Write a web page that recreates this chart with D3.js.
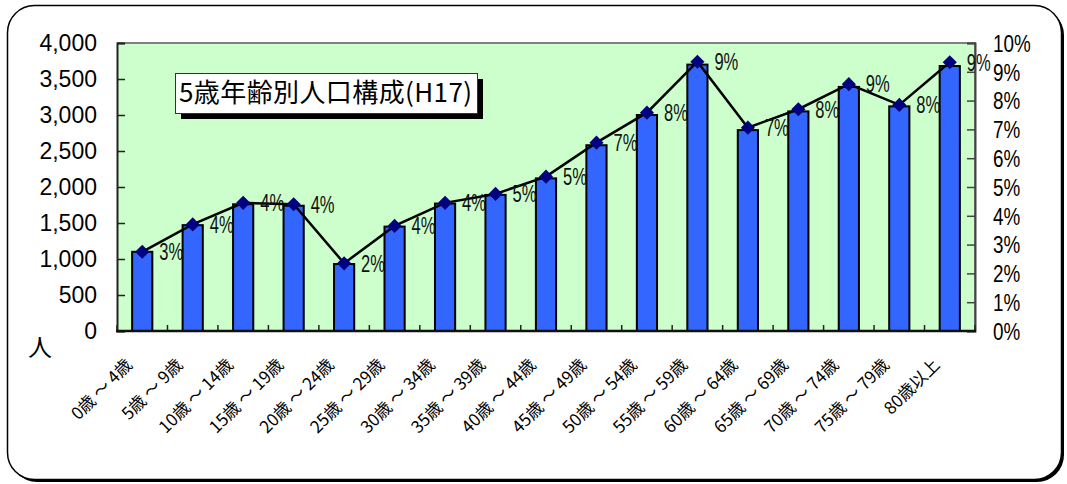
<!DOCTYPE html>
<html>
<head>
<meta charset="utf-8">
<script src="https://cdn.jsdelivr.net/npm/d3@7"></script>
<style>
  body { margin: 0; background: #fff; }
  text { font-family: "Liberation Sans", Arial, sans-serif; }
  .cjk { font-family: "Noto Sans CJK JP", "Noto Sans", sans-serif; }
</style>
</head>
<body>
<div id="container"></div>
<script>
const categories = ["0歳～4歳", "5歳～9歳", "10歳～14歳", "15歳～19歳", "20歳～24歳", "25歳～29歳",
    "30歳～34歳", "35歳～39歳", "40歳～44歳", "45歳～49歳", "50歳～54歳", "55歳～59歳",
    "60歳～64歳", "65歳～69歳", "70歳～74歳", "75歳～79歳", "80歳以上"];
const population = [1100, 1470, 1760, 1740, 930, 1450, 1770, 1890, 2120, 2580, 3000, 3700, 2790, 3050, 3390, 3120, 3680];
const share = [2.75, 3.70, 4.45, 4.40, 2.35, 3.65, 4.45, 4.76, 5.36, 6.54, 7.58, 9.35, 7.06, 7.70, 8.57, 7.85, 9.33];
const popTicks = [0, 500, 1000, 1500, 2000, 2500, 3000, 3500, 4000];
const pctTicks = [0, 1, 2, 3, 4, 5, 6, 7, 8, 9, 10];
const title = "5歳年齢別人口構成(H17)";
const unitLabel = "人";

function renderChart() {
    const width = 1067;
    const height = 484;
    const marginTop = 43;
    const marginRight = 92;
    const marginBottom = 153;
    const marginLeft = 117;

    const x = d3.scaleBand(categories, [marginLeft, width - marginRight]);
    const y = d3.scaleLinear([0, 4000], [height - marginBottom, marginTop]);
    const y2 = d3.scaleLinear([0, 10], [height - marginBottom, marginTop]);
    const cx = d => x(d) + x.bandwidth() / 2;
    const barW = x.bandwidth() * 0.4;

    const svg = d3.create("svg")
        .attr("width", width)
        .attr("height", height)
        .attr("viewBox", [0, 0, width, height]);

    // outer frame with shadow
    svg.append("rect")
        .attr("x", 10).attr("y", 8).attr("width", 1054).attr("height", 474)
        .attr("rx", 27).attr("fill", "#000");
    svg.append("rect")
        .attr("x", 7.5).attr("y", 5.5).attr("width", 1054).attr("height", 474)
        .attr("rx", 27).attr("fill", "#fff").attr("stroke", "#000").attr("stroke-width", 1.5);

    // plot area
    svg.append("rect")
        .attr("x", marginLeft).attr("y", marginTop)
        .attr("width", width - marginLeft - marginRight)
        .attr("height", height - marginTop - marginBottom)
        .attr("fill", "#ccffcc");
    svg.append("path")
        .attr("fill", "none").attr("stroke", "#808080").attr("stroke-width", 2)
        .attr("d", `M${marginLeft},${marginTop}H${width - marginRight}V${height - marginBottom}`);

    // bars
    svg.append("g")
        .selectAll("rect")
        .data(categories)
        .join("rect")
        .attr("x", d => cx(d) - barW / 2)
        .attr("y", (d, i) => y(population[i]))
        .attr("width", barW)
        .attr("height", (d, i) => y(0) - y(population[i]))
        .attr("fill", "#3366ff")
        .attr("stroke", "#000")
        .attr("stroke-width", 2);

    // left axis, ticks pointing inside
    svg.append("g")
        .attr("transform", `translate(${marginLeft},0)`)
        .call(d3.axisLeft(y).tickValues(popTicks).tickSize(-8).tickPadding(20).tickFormat(d3.format(",")))
        .call(g => g.select(".domain").attr("stroke", "#222").attr("stroke-width", 2))
        .call(g => g.selectAll(".tick line").attr("stroke", "#222").attr("stroke-width", 1.5))
        .call(g => g.selectAll(".tick text")
            .attr("font-size", 23).attr("fill", "#000")
            .attr("font-family", "Liberation Sans, Arial, sans-serif"));

    // right axis
    svg.append("g")
        .attr("transform", `translate(${width - marginRight},0)`)
        .call(d3.axisRight(y2).tickValues(pctTicks).tickSize(-8).tickPadding(0).tickFormat(d => d + "%"))
        .call(g => g.select(".domain").attr("stroke", "#444").attr("stroke-width", 2))
        .call(g => g.selectAll(".tick line").attr("stroke", "#444").attr("stroke-width", 1.5))
        .call(g => g.selectAll(".tick text").remove())
        .call(g => g.selectAll(".tick").append("text")
            .attr("transform", "translate(18,0) scale(0.82,1)")
            .attr("dy", "0.36em")
            .attr("font-size", 23).attr("fill", "#000")
            .attr("font-family", "Liberation Sans, Arial, sans-serif")
            .text(d => d + "%"));

    // bottom axis with ticks at category boundaries
    const bounds = categories.map(d => x(d)).concat([width - marginRight]);
    svg.append("g")
        .selectAll("line")
        .data(bounds)
        .join("line")
        .attr("x1", d => d).attr("x2", d => d)
        .attr("y1", y(0)).attr("y2", y(0) - 6)
        .attr("stroke", "#222").attr("stroke-width", 1.5);
    svg.append("line")
        .attr("x1", marginLeft - 1).attr("x2", width - marginRight + 1)
        .attr("y1", y(0)).attr("y2", y(0))
        .attr("stroke", "#111").attr("stroke-width", 2.5);

    svg.append("g")
        .selectAll("text")
        .data(categories)
        .join("text")
        .attr("class", "cjk")
        .attr("transform", d => `translate(${cx(d) - 9},${y(0) + 35}) rotate(-45)`)
        .attr("text-anchor", "end")
        .attr("font-size", 17)
        .attr("fill", "#000")
        .text(d => d.replace("～", " ～ "));

    // share line
    const line = d3.line().x(d => cx(d)).y((d, i) => y2(share[i]));
    svg.append("path")
        .attr("fill", "none")
        .attr("stroke", "#000")
        .attr("stroke-width", 2.5)
        .attr("d", line(categories));

    svg.append("g")
        .selectAll("path")
        .data(categories)
        .join("path")
        .attr("d", d3.symbol(d3.symbolSquare, 100))
        .attr("transform", (d, i) => `translate(${cx(d)},${y2(share[i])}) rotate(45)`)
        .attr("fill", "#000080");

    svg.append("g")
        .selectAll("text")
        .data(categories)
        .join("text")
        .attr("transform", (d, i) => `translate(${cx(d) + 17},${y2(share[i])}) scale(0.72,1)`)
        .attr("dy", "0.36em")
        .attr("font-size", 23)
        .attr("fill", "#111")
        .text((d, i) => Math.round(share[i]) + "%");

    // unit label
    svg.append("text")
        .attr("class", "cjk")
        .attr("x", 40).attr("y", 347)
        .attr("dy", "0.36em")
        .attr("text-anchor", "middle")
        .attr("font-size", 24)
        .text(unitLabel);

    // title box
    const tb = svg.append("g").attr("transform", "translate(175,73)");
    tb.append("rect").attr("x", 6).attr("y", 6).attr("width", 302).attr("height", 40).attr("fill", "#000");
    tb.append("rect").attr("x", 0.5).attr("y", 0.5).attr("width", 302).attr("height", 40)
        .attr("fill", "#fff").attr("stroke", "#333").attr("stroke-width", 1);
    tb.append("text")
        .attr("class", "cjk")
        .attr("x", 4).attr("y", 20)
        .attr("dy", "0.36em")
        .attr("font-size", 26)
        .attr("textLength", 293)
        .attr("fill", "#000")
        .text(title);

    document.getElementById("container").append(svg.node());
}

renderChart();
</script>
</body>
</html>
